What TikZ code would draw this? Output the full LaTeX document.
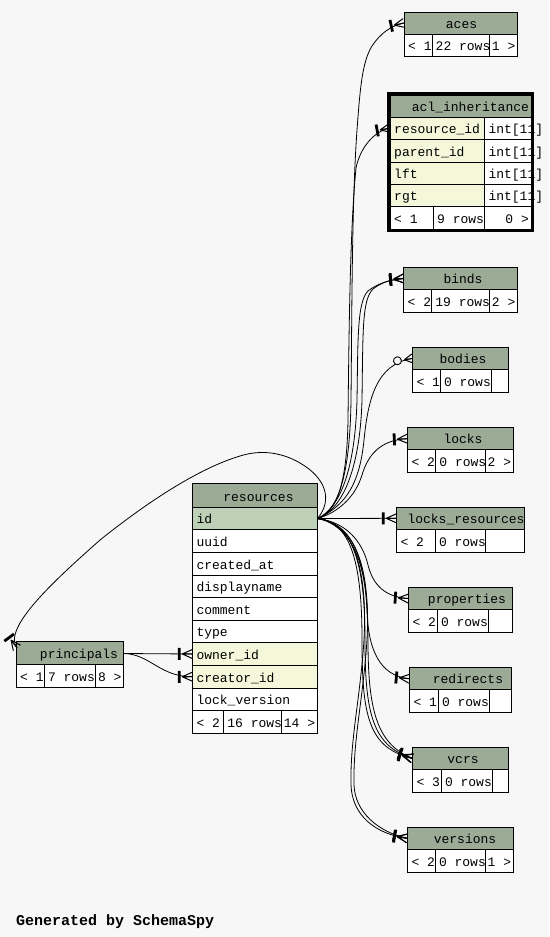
\documentclass[tikz,border=0pt]{standalone}
\usepackage{fontspec}
\setmonofont{Liberation Mono}
\usetikzlibrary{decorations.markings}
\definecolor{bgc}{HTML}{F7F7F7}
\definecolor{hdrc}{HTML}{9BAB96}
\definecolor{pkc}{HTML}{BED1B8}
\definecolor{fkc}{HTML}{F4F7DA}
\tikzset{
  cell/.style={draw=black, line width=1pt},
  txt/.style={inner sep=0pt, font=\fontsize{13}{15}\selectfont\ttfamily, anchor=base west},
  txtr/.style={txt, anchor=base east},
  txtc/.style={txt, anchor=base},
  rel/.style={draw=black, line width=0.8pt},
  crowbar/.style={postaction={decorate}, decoration={markings, mark=at position 0.9999 with {\draw[line width=1pt] (-10,0) -- (0,4.5) (-10,0) -- (0,-4.5) (-10,0) -- (0,0); \draw[line width=2.8pt] (-13,-6) -- (-13,6);}}},
  crowodot/.style={postaction={decorate}, decoration={markings, mark=at position 0.9999 with {\draw[line width=1pt] (-8,0) -- (0,4.5) (-8,0) -- (0,-4.5) (-8,0) -- (0,0); \draw[line width=0.9pt, fill=bgc] (-15,0) circle[radius=4];}}},
}
% header: name, x1, x2, y1, y2, title x, title
\newcommand\SShead[7]{%
  \def\SScur{#1}%
  \fill[hdrc] (#2,#4) rectangle (#3,#5);
  \node[txtc] (#1) at (#6,{#5-6}) {#7};
  \draw[cell] (#2,#4) rectangle (#3,#5);
}
% footer: x1, x2, y2, y3, d1, d2, left, middle, right
\newcommand\SSfoot[9]{%
  \fill[white] (#1,#3) rectangle (#2,#4);
  \node[txt] (\SScur-l) at ({#1+4},{#4-6}) {#7};
  \node[txt] (\SScur-m) at ({#5+3.5},{#4-6}) {#8};
  \node[txtr] (\SScur-r) at ({#2-2},{#4-6}) {#9};
  \draw[cell] (#1,#3) rectangle (#2,#4) (#5,#3) -- (#5,#4) (#6,#3) -- (#6,#4);
}
% row: name, x1, x2, ytop, ybot, colour, text
\newcommand\SSrow[7]{%
  \fill[#6] (#2,#4) rectangle (#3,#5);
  \node[txt] (#1) at ({#2+4},{#5-6}) {#7};
  \draw[cell] (#2,#4) rectangle (#3,#5);
}
\begin{document}
\begin{tikzpicture}[x=1pt,y=-1pt]
\fill[bgc] (0,0) rectangle (549,937);
\useasboundingbox (0,0) rectangle (549,937);

% ---------- small tables ----------
\SShead{aces}{404}{517.5}{12}{34}{461.5}{aces}
\SSfoot{404}{517.5}{34}{56.5}{432}{489.5}{< 1}{22 rows}{1 >}

\SShead{binds}{403.5}{517.5}{267.5}{289.5}{463}{binds}
\SSfoot{403.5}{517.5}{289.5}{312.3}{431.7}{489.3}{< 2}{19 rows}{2 >}

\SShead{bodies}{412.3}{508.3}{347.7}{369.3}{463}{bodies}
\SSfoot{412.3}{508.3}{369.3}{392.3}{440.3}{491.7}{< 1}{0 rows}{}

\SShead{locks}{407.3}{513.3}{427.7}{449.7}{463}{locks}
\SSfoot{407.3}{513.3}{449.7}{472.3}{435.7}{485.3}{< 2}{0 rows}{2 >}

\fill[hdrc] (396.3,507.3) rectangle (524.3,529.3);
\node[txt] (locksres) at (407.3,523.3) {locks\_resources};
\draw[cell] (396.3,507.3) rectangle (524.3,529.3);
\def\SScur{locksres}
\SSfoot{396.3}{524.3}{529.3}{552.3}{435.3}{485.7}{< 2}{0 rows}{}

\SShead{properties}{408.3}{512.7}{587.7}{609.3}{467}{properties}
\SSfoot{408.3}{512.7}{609.3}{632.3}{437.3}{488.7}{< 2}{0 rows}{}

\SShead{redirects}{409.3}{511.7}{667.7}{689.7}{468}{redirects}
\SSfoot{409.3}{511.7}{689.7}{712.3}{438.3}{489}{< 1}{0 rows}{}

\SShead{vcrs}{412.3}{508.3}{747.3}{769.3}{463}{vcrs}
\SSfoot{412.3}{508.3}{769.3}{792.3}{441.3}{492.7}{< 3}{0 rows}{}

\SShead{versions}{407.3}{513.3}{827.3}{849.3}{465}{versions}
\SSfoot{407.3}{513.3}{849.3}{872.3}{435.3}{485.3}{< 2}{0 rows}{1 >}

\SShead{principals}{16}{123.7}{641.7}{664}{79}{principals}
\SSfoot{16}{123.7}{664}{687.3}{44.3}{95.7}{< 1}{7 rows}{8 >}

% ---------- acl_inheritance ----------
\fill[hdrc] (390,95) rectangle (531,117);
\node[txt] (aclinh) at (411.7,111) {acl\_inheritance};
\draw[cell] (390,95) rectangle (531,117);
\SSrow{acl-c1}{390}{484.3}{117}{139.3}{fkc}{resource\_id}
\SSrow{acl-c2}{390}{484.3}{139.3}{162}{fkc}{parent\_id}
\SSrow{acl-c3}{390}{484.3}{162}{184}{fkc}{lft}
\SSrow{acl-c4}{390}{484.3}{184}{206.7}{fkc}{rgt}
\SSrow{acl-t1}{484.3}{531}{117}{139.3}{white}{int[11]}
\SSrow{acl-t2}{484.3}{531}{139.3}{162}{white}{int[11]}
\SSrow{acl-t3}{484.3}{531}{162}{184}{white}{int[11]}
\SSrow{acl-t4}{484.3}{531}{184}{206.7}{white}{int[11]}
\fill[white] (390,206.7) rectangle (531,229);
\node[txt] (acl-l) at (394,223) {< 1};
\node[txt] (acl-m) at (437,223) {9 rows};
\node[txtr] (acl-r) at (529,223) {0 >};
\draw[cell] (390,206.7) rectangle (531,229) (433.3,206.7) -- (433.3,229) (484,206.7) -- (484,229);
\draw[line width=2.8pt] (388.5,93.5) rectangle (532.1,230.5);

% ---------- resources ----------
\fill[hdrc] (192.3,483.3) rectangle (317.3,507.3);
\node[txtc] (resources) at (258.5,501.3) {resources};
\draw[cell] (192.3,483.3) rectangle (317.3,507.3);
\SSrow{r-id}{192.3}{317.3}{507.3}{529.7}{pkc}{id}
\SSrow{r-uuid}{192.3}{317.3}{529.7}{552.3}{white}{uuid}
\SSrow{r-created}{192.3}{317.3}{552.3}{575}{white}{created\_at}
\SSrow{r-disp}{192.3}{317.3}{575}{597.7}{white}{displayname}
\SSrow{r-comment}{192.3}{317.3}{597.7}{620}{white}{comment}
\SSrow{r-type}{192.3}{317.3}{620}{642.7}{white}{type}
\SSrow{r-owner}{192.3}{317.3}{642.7}{665.3}{fkc}{owner\_id}
\SSrow{r-creator}{192.3}{317.3}{665.3}{688}{fkc}{creator\_id}
\SSrow{r-lock}{192.3}{317.3}{688}{710.7}{white}{lock\_version}
\def\SScur{resfoot}
\SSfoot{192.3}{317.3}{710.7}{733.3}{223.7}{281.7}{< 2}{16 rows}{14 >}

% ---------- connection points ----------
\coordinate (rid) at (317.5,518.5);
\coordinate (acesin) at (404,23);
\coordinate (aclin) at (390,128);
\coordinate (bindsin) at (403.5,278.5);
\coordinate (bodiesin) at (412.3,358.5);
\coordinate (locksin) at (407.3,438.7);
\coordinate (lrin) at (396.3,518.3);
\coordinate (propin) at (408.3,598.5);
\coordinate (redin) at (409.3,678.7);
\coordinate (vcrsin) at (412.3,758.3);
\coordinate (versin) at (407.3,838.3);
\coordinate (prinin) at (17,648);
\coordinate (prinout) at (123.7,653.5);
\coordinate (ownin) at (192.3,654);
\coordinate (crein) at (192.3,676.7);

% ---------- relations ----------
\draw[rel,crowbar] (rid) .. controls (340,510) and (350,470) .. (351,400) .. controls (352,300) and (352,200) .. (357,130) .. controls (360,90) and (362,62) .. (372,46) .. controls (380,34) and (390,26) .. (acesin);
\draw[rel,crowbar] (rid) .. controls (338,512) and (347,480) .. (348,420) .. controls (349,330) and (350,230) .. (356,168) .. controls (360,148) and (374,131) .. (aclin);
\draw[rel,crowbar] (rid) .. controls (340,508) and (355,470) .. (357,400) .. controls (358,340) and (357,302) .. (368,291) .. controls (378,283) and (390,280) .. (bindsin);
\draw[rel,crowbar] (rid) .. controls (342,510) and (360,470) .. (362,400) .. controls (363,330) and (362,300) .. (373,289) .. controls (382,282) and (392,279) .. (bindsin);
\draw[rel,crowodot] (rid) .. controls (348,505) and (360,480) .. (364,440) .. controls (368,400) and (376,364) .. (bodiesin);
\draw[rel,crowbar] (rid) .. controls (340,512) and (356,495) .. (362,475) .. controls (368,455) and (380,440) .. (locksin);
\draw[rel,crowbar] (rid) -- (lrin);
\draw[rel,crowbar] (rid) .. controls (345,522) and (362,540) .. (368,565) .. controls (373,585) and (385,597) .. (propin);
\draw[rel,crowbar] (rid) .. controls (350,525) and (365,560) .. (367,610) .. controls (368,650) and (380,676) .. (redin);
\draw[rel,crowbar] (rid) .. controls (350,522) and (362,560) .. (362,640) .. controls (362,715) and (368,748) .. (vcrsin);
\draw[rel,crowbar] (rid) .. controls (352,523) and (365,560) .. (365,640) .. controls (365,712) and (372,746) .. (vcrsin);
\draw[rel,crowbar] (rid) .. controls (354,524) and (368,560) .. (368,640) .. controls (368,708) and (376,744) .. (vcrsin);
\draw[rel,crowbar] (rid) .. controls (350,522) and (368,560) .. (364,640) .. controls (360,700) and (350,740) .. (351,785) .. controls (352,815) and (375,834) .. (versin);
\draw[rel,crowbar] (rid) .. controls (352,523) and (371,560) .. (367,640) .. controls (363,700) and (353,740) .. (354,785) .. controls (355,812) and (378,832) .. (versin);
\draw[rel,crowbar] (rid) .. controls (333,500) and (326,478) .. (300,463) .. controls (283,453) and (262,449) .. (240,456) .. controls (200,468) and (150,500) .. (100,540) .. controls (55,580) and (2,628) .. (prinin);
\draw[rel,crowbar] (prinout) -- (ownin);
\draw[rel,crowbar] (prinout) .. controls (150,654) and (160,677) .. (crein);

% ---------- footer ----------
\node[inner sep=0pt, anchor=base west, font=\fontsize{15}{18}\selectfont\ttfamily\bfseries] (gen) at (16,925) {Generated by SchemaSpy};
\end{tikzpicture}
\end{document}
